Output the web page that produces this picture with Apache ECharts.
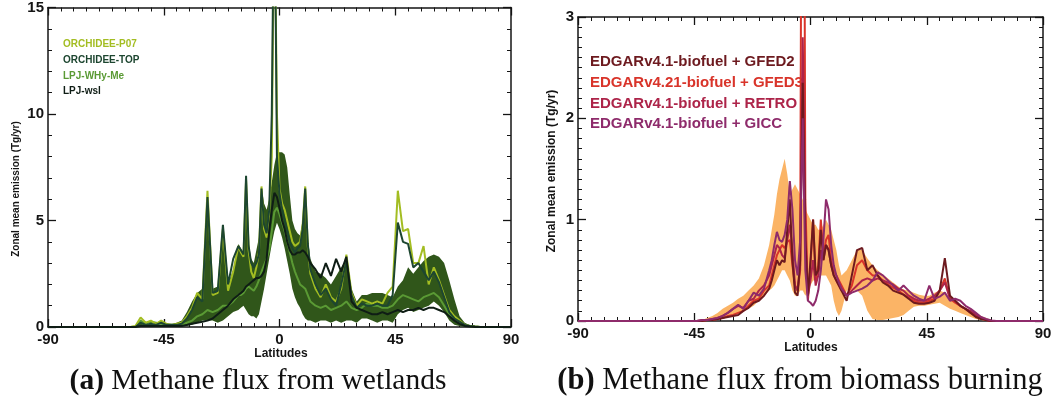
<!DOCTYPE html>
<html>
<head>
<meta charset="utf-8">
<script src="https://cdn.jsdelivr.net/npm/echarts@6/dist/echarts.min.js"></script>
<style>
  html, body { margin: 0; padding: 0; background: #ffffff; }
  #chart { width: 1055px; height: 408px; }
</style>
</head>
<body>
<div id="chart"></div>
<script>
// Latitude grid (degrees): 2° steps at the edges, 1° steps across the tropics
const LAT = [-90,
  -60, -58, -56, -54, -52, -50, -48, -46, -44, -42, -40, -38, -36, -34, -32, -30, -28, -26, -24, -22, -20, -18,
  -16, -15, -14, -13, -12, -11, -10, -9, -8, -7, -6, -5, -4, -3, -2, -1, 0, 1, 2, 3, 4, 5, 6, 7, 8, 9, 10, 11, 12,
  14, 16, 18, 20, 22, 24, 26, 28, 30, 32, 34, 36, 38, 40, 42, 44, 46, 48, 50, 52, 54, 56, 58, 60, 62, 64, 66, 68, 70, 72, 74, 76, 78, 80,
  90];

const X_TICKS = [-90, -45, 0, 45, 90];

// ---- (a) wetland emissions, Tg/yr ----
const orchideeP07 = [0,
  0, 0, 0.05, 0.45, 0.2, 0.3, 0.15, 0.3, 0.15, 0.1, 0.15, 0.2, 0.5, 0.9, 1.6, 1.3, 6.4, 1.5, 1.6, 4.6, 1.7, 2.6,
  3.8, 3.5, 3.3, 6.9, 3.6, 2.6, 2.3, 2.8, 3.5, 6.6, 4.6, 4.2, 5.3, 8.0, 21, 10, 6.5, 5.8, 5.5, 5.0, 4.5, 4.0, 3.8, 3.9, 4.0, 4.8, 6.6, 3.8, 2.5,
  1.8, 1.4, 2.0, 1.4, 1.2, 1.8, 3.4, 1.6, 1.0, 1.3, 1.2, 1.1, 1.2, 1.1, 1.6, 1.9, 6.4, 4.5, 4.6, 3.0, 3.0, 3.8, 2.0, 2.8, 2.2, 1.5, 0.8, 0.5, 0.3, 0.1, 0.05, 0.02, 0, 0,
  0];
const orchideeTOP = [0,
  0, 0, 0, 0.2, 0.1, 0.15, 0.1, 0.2, 0.1, 0.1, 0.1, 0.15, 0.4, 0.8, 1.4, 1.2, 6.1, 1.6, 1.7, 4.8, 2.0, 3.2,
  3.8, 3.6, 3.4, 7.1, 3.8, 3.0, 2.8, 3.0, 3.4, 6.5, 4.8, 4.4, 5.5, 10, 22, 8.0, 6.3, 5.5, 5.0, 4.5, 4.0, 3.7, 3.5, 3.7, 3.8, 4.6, 6.5, 3.9, 2.7,
  2.0, 1.5, 1.8, 1.3, 1.0, 2.0, 3.1, 1.5, 0.9, 1.1, 1.0, 1.0, 1.1, 1.0, 1.0, 1.5, 4.9, 4.0, 3.9, 2.8, 3.0, 2.6, 2.2, 2.6, 2.1, 1.4, 0.7, 0.4, 0.25, 0.1, 0.05, 0.02, 0, 0,
  0];
const lpjWhyMe = [0,
  0, 0, 0.02, 0.3, 0.15, 0.25, 0.2, 0.15, 0.1, 0.1, 0.1, 0.1, 0.2, 0.3, 0.5, 0.6, 0.8, 0.7, 0.8, 1.0, 1.0, 1.2,
  1.5, 1.5, 1.6, 1.8, 1.9, 1.8, 1.7, 1.9, 2.2, 2.6, 2.9, 3.2, 3.6, 4.5, 5.4, 5.6, 5.3, 4.9, 4.5, 4.0, 3.5, 3.0, 2.6, 2.3, 2.0, 1.9, 1.8, 1.5, 1.2,
  1.0, 0.9, 1.0, 0.8, 0.9, 1.0, 1.2, 0.9, 0.8, 0.9, 1.1, 1.0, 1.0, 0.9, 0.9, 1.0, 1.3, 1.5, 1.4, 1.3, 1.2, 1.4, 1.5, 1.6, 1.4, 1.0, 0.6, 0.4, 0.2, 0.1, 0.05, 0.02, 0, 0,
  0];
const lpjWsl = [0,
  0, 0, 0, 0.05, 0.05, 0.05, 0.05, 0.05, 0.05, 0.05, 0.05, 0.05, 0.1, 0.15, 0.2, 0.25, 0.3, 0.4, 0.6, 0.8, 1.0, 1.3,
  1.5, 1.6, 1.7, 1.9, 2.0, 2.1, 2.2, 2.3, 2.3, 2.4, 2.6, 3.2, 4.5, 5.5, 6.3, 6.1, 5.6, 5.0, 4.6, 4.0, 3.6, 3.4, 3.4, 3.5, 3.5, 3.6, 3.5, 3.3, 3.0,
  2.7, 2.3, 3.0, 2.4, 3.2, 2.6, 3.3, 1.2, 0.9, 0.8, 0.7, 0.6, 0.6, 0.7, 0.6, 0.7, 0.8, 0.7, 0.8, 0.8, 0.9, 0.8, 0.9, 0.9, 0.8, 0.7, 0.5, 0.3, 0.15, 0.05, 0.02, 0, 0, 0,
  0];
// ensemble range (min / max)
const wetRangeLow = [0,
  0, 0, 0, 0, 0, 0, 0, 0, 0, 0, 0, 0.02, 0.05, 0.1, 0.2, 0.3, 0.3, 0.3, 0.2, 0.3, 0.5, 0.7,
  0.8, 0.9, 1.0, 0.8, 0.6, 0.5, 0.5, 0.4, 0.6, 1.2, 1.8, 2.5, 3.2, 3.9, 4.5, 4.9, 4.6, 4.2, 3.7, 3.1, 2.5, 1.8, 1.4, 1.1, 0.9, 0.6, 0.4, 0.3, 0.3,
  0.2, 0.3, 0.3, 0.2, 0.3, 0.2, 0.3, 0.3, 0.2, 0.4, 0.4, 0.3, 0.2, 0.3, 0.3, 0.2, 0.6, 0.8, 0.9, 0.7, 0.8, 0.9, 1.0, 1.2, 1.0, 0.7, 0.3, 0.1, 0.05, 0, 0, 0, 0, 0,
  0];
const wetRangeHigh = [0,
  0, 0, 0.05, 0.15, 0.1, 0.12, 0.1, 0.12, 0.1, 0.12, 0.2, 0.3, 0.7, 1.2, 1.6, 1.8, 5.5, 1.8, 1.9, 4.4, 2.0, 2.7,
  3.9, 3.7, 3.5, 6.8, 4.0, 3.2, 3.0, 3.6, 4.2, 6.6, 5.8, 5.5, 6.0, 6.8, 7.6, 8.2, 8.2, 8.2, 8.1, 7.5, 6.2, 5.0, 4.6, 4.4, 4.3, 5.0, 6.3, 4.2, 3.2,
  2.6, 2.5, 2.3, 2.0, 2.4, 2.8, 3.2, 1.8, 1.2, 1.5, 1.5, 1.6, 1.6, 1.6, 1.5, 1.4, 1.9, 2.2, 2.8, 2.5, 2.8, 3.1, 3.3, 3.4, 3.3, 3.0, 2.2, 1.3, 0.5, 0.2, 0.08, 0.02, 0, 0,
  0];

// ---- (b) biomass burning emissions, Tg/yr ----
const gfed2 = [0,
  0, 0, 0, 0, 0, 0, 0, 0, 0, 0, 0.01, 0.01, 0.02, 0.03, 0.04, 0.05, 0.06, 0.1, 0.13, 0.18, 0.2, 0.25,
  0.32, 0.4, 0.5, 0.6, 0.55, 0.6, 0.58, 0.9, 1.2, 0.6, 0.28, 0.25, 0.6, 2.35, 0.8, 0.25, 0.6, 1.0, 0.45, 0.5, 0.9, 0.6, 0.75, 0.7, 0.55, 0.45, 0.4, 0.35, 0.3,
  0.2, 0.45, 0.7, 0.72, 0.5, 0.55, 0.45, 0.38, 0.35, 0.3, 0.28, 0.26, 0.22, 0.18, 0.17, 0.17, 0.18, 0.2, 0.3, 0.62, 0.25, 0.2, 0.15, 0.12, 0.08, 0.04, 0.02, 0.01, 0, 0, 0, 0, 0, 0,
  0];
const gfed3 = [0,
  0, 0, 0, 0, 0, 0, 0, 0, 0, 0, 0.01, 0.01, 0.02, 0.03, 0.05, 0.06, 0.08, 0.1, 0.15, 0.2, 0.22, 0.3,
  0.35, 0.45, 0.55, 0.65, 0.7, 0.75, 0.72, 0.78, 0.8, 0.55, 0.35, 0.3, 0.5, 9.0, 1.2, 0.2, 0.55, 1.0, 0.4, 0.55, 1.0, 0.65, 0.8, 0.85, 0.6, 0.5, 0.45, 0.4, 0.35,
  0.25, 0.35, 0.55, 0.6, 0.5, 0.45, 0.45, 0.4, 0.36, 0.33, 0.3, 0.26, 0.23, 0.2, 0.18, 0.18, 0.2, 0.22, 0.3, 0.42, 0.22, 0.18, 0.15, 0.12, 0.08, 0.05, 0.03, 0.01, 0, 0, 0, 0, 0, 0,
  0];
const retro = [0,
  0, 0, 0, 0, 0, 0, 0, 0, 0, 0.01, 0.01, 0.02, 0.03, 0.05, 0.08, 0.12, 0.15, 0.13, 0.2, 0.22, 0.3, 0.35,
  0.45, 0.55, 0.65, 0.75, 0.72, 0.65, 0.62, 0.8, 0.95, 0.7, 0.35, 0.3, 0.55, 2.8, 0.9, 0.25, 0.4, 0.6, 0.35, 0.45, 0.7, 0.6, 0.75, 0.7, 0.55, 0.45, 0.4, 0.35, 0.3,
  0.25, 0.3, 0.35, 0.4, 0.42, 0.4, 0.42, 0.4, 0.38, 0.36, 0.32, 0.3, 0.25, 0.22, 0.2, 0.2, 0.22, 0.25, 0.3, 0.38, 0.22, 0.2, 0.15, 0.12, 0.1, 0.06, 0.03, 0.01, 0, 0, 0, 0, 0, 0,
  0];
const gicc = [0,
  0, 0, 0, 0, 0, 0, 0, 0, 0, 0.01, 0.01, 0.02, 0.03, 0.05, 0.08, 0.12, 0.16, 0.12, 0.2, 0.28, 0.25, 0.32,
  0.5, 0.6, 0.75, 0.88, 0.8, 0.78, 0.85, 1.0, 1.38, 1.1, 0.6, 0.45, 0.8, 2.0, 0.5, 0.2, 0.18, 0.15, 0.2, 0.3, 0.5, 0.8, 1.2, 1.1, 0.75, 0.55, 0.45, 0.38, 0.32,
  0.25, 0.28, 0.3, 0.32, 0.35, 0.4, 0.48, 0.45, 0.4, 0.35, 0.3, 0.35, 0.3, 0.25, 0.22, 0.2, 0.35, 0.22, 0.24, 0.28, 0.2, 0.22, 0.2, 0.15, 0.12, 0.08, 0.04, 0.02, 0.005, 0, 0, 0, 0, 0,
  0];
// inventory range (min / max)
const fireRangeLow = [0,
  0, 0, 0, 0, 0, 0, 0, 0, 0, 0, 0, 0, 0.02, 0.03, 0.05, 0.06, 0.08, 0.1, 0.12, 0.15, 0.2, 0.25,
  0.3, 0.32, 0.35, 0.4, 0.45, 0.5, 0.5, 0.45, 0.4, 0.3, 0.25, 0.25, 0.3, 0.3, 0.25, 0.3, 0.35, 0.4, 0.4, 0.45, 0.45, 0.45, 0.45, 0.4, 0.35, 0.2, 0.1, 0.05, 0.1,
  0.3, 0.3, 0.3, 0.25, 0.1, 0.02, 0.01, 0.01, 0.02, 0.03, 0.04, 0.06, 0.1, 0.14, 0.15, 0.15, 0.16, 0.17, 0.18, 0.15, 0.12, 0.1, 0.08, 0.06, 0.04, 0.02, 0.01, 0, 0, 0, 0, 0, 0, 0,
  0];
const fireRangeHigh = [0,
  0, 0, 0, 0, 0, 0, 0, 0, 0, 0.01, 0.03, 0.05, 0.08, 0.12, 0.15, 0.18, 0.22, 0.25, 0.3, 0.35, 0.42, 0.55,
  0.75, 0.9, 1.05, 1.25, 1.4, 1.5, 1.6, 1.45, 1.25, 1.3, 1.35, 1.3, 1.25, 1.2, 1.1, 1.05, 1.0, 0.95, 0.95, 0.9, 0.9, 0.95, 1.0, 0.95, 0.9, 0.8, 0.7, 0.55, 0.45,
  0.5, 0.6, 0.7, 0.7, 0.62, 0.55, 0.5, 0.46, 0.42, 0.38, 0.34, 0.31, 0.3, 0.28, 0.26, 0.25, 0.25, 0.28, 0.3, 0.28, 0.22, 0.18, 0.15, 0.12, 0.1, 0.08, 0.05, 0.03, 0.01, 0, 0, 0, 0, 0,
  0];

const wetSeries = [
  { name: 'ORCHIDEE-P07', values: orchideeP07, color: '#a3bd22' },
  { name: 'ORCHIDEE-TOP', values: orchideeTOP, color: '#1d4630' },
  { name: 'LPJ-WHy-Me', values: lpjWhyMe, color: '#5a9a34' },
  { name: 'LPJ-wsl', values: lpjWsl, color: '#0f1d15' }
];
const fireSeries = [
  { name: 'EDGARv4.1-biofuel + GFED2', values: gfed2, color: '#6d1a1f' },
  { name: 'EDGARv4.21-biofuel + GFED3', values: gfed3, color: '#d9342a' },
  { name: 'EDGARv4.1-biofuel + RETRO', values: retro, color: '#ad2449' },
  { name: 'EDGARv4.1-biofuel + GICC', values: gicc, color: '#8e2b6b' }
];

const pts = vals => LAT.map((lat, i) => [lat, vals[i]]);

const FONT = 'Liberation Sans, Arial, Helvetica, sans-serif';
const INK = '#141414';

function xAxes(grid) {
  const base = {
    gridIndex: grid, type: 'value', min: X_TICKS[0], max: X_TICKS[X_TICKS.length - 1], interval: 45,
    axisLine: { show: true, onZero: false, lineStyle: { color: INK, width: 1.5 } },
    axisTick: { show: true, inside: true, length: 8, lineStyle: { color: INK, width: 1.3 } },
    minorTick: { show: true, splitNumber: 9, length: 4, lineStyle: { color: INK, width: 1 } },
    splitLine: { show: false }, minorSplitLine: { show: false }
  };
  return [
    Object.assign({}, base, { position: 'bottom',
      axisLabel: { show: true, margin: 5, fontFamily: FONT, fontWeight: 'bold', fontSize: 15, color: INK } }),
    Object.assign({}, base, { position: 'top', axisLabel: { show: false } })
  ];
}
function yAxes(grid, max, interval, minorSplit) {
  const base = {
    gridIndex: grid, type: 'value', min: 0, max: max, interval: interval,
    axisLine: { show: true, onZero: false, lineStyle: { color: INK, width: 1.5 } },
    axisTick: { show: true, inside: true, length: 8, lineStyle: { color: INK, width: 1.3 } },
    minorTick: { show: true, splitNumber: minorSplit, length: 4, lineStyle: { color: INK, width: 1 } },
    splitLine: { show: false }, minorSplitLine: { show: false }
  };
  return [
    Object.assign({}, base, { position: 'left',
      axisLabel: { show: true, margin: 4, fontFamily: FONT, fontWeight: 'bold', fontSize: 15, color: INK } }),
    Object.assign({}, base, { position: 'right', axisLabel: { show: false } })
  ];
}

// Filled min–max envelope, drawn as one polygon through the axis scales
function bandSeries(lo, hi, color, xi, yi) {
  return {
    type: 'custom', xAxisIndex: xi, yAxisIndex: yi, silent: true, z: 1,
    data: [[0, 0]], encode: { x: 0, y: 1 },
    renderItem: function (params, api) {
      const upper = LAT.map((lat, i) => api.coord([lat, hi[i]]));
      const lower = LAT.map((lat, i) => api.coord([lat, lo[i]])).reverse();
      return { type: 'polygon', shape: { points: upper.concat(lower) }, style: { fill: color, stroke: null } };
    }
  };
}
function lineSeries(s, xi, yi, width) {
  return { type: 'line', name: s.name, xAxisIndex: xi, yAxisIndex: yi, data: pts(s.values),
    showSymbol: false, symbol: 'none', clip: true,
    lineStyle: { color: s.color, width: width }, z: 3 };
}

const wetOrder = [2, 0, 1, 3];
const fireOrder = [1, 2, 0, 3];

const series = [bandSeries(wetRangeLow, wetRangeHigh, '#30561a', 0, 0)]
  .concat(wetOrder.map(i => lineSeries(wetSeries[i], 0, 0, 2)))
  .concat([bandSeries(fireRangeLow, fireRangeHigh, '#fbb466', 2, 2)])
  .concat(fireOrder.map(i => lineSeries(fireSeries[i], 2, 2, 2)));

const titleStyle = (size) => ({ fontFamily: FONT, fontWeight: 'bold', fontSize: size, fill: INK });

const graphics = [
  { type: 'text', x: 16, y: 189, rotation: Math.PI / 2,
    style: Object.assign({ text: 'Zonal mean emission (Tg/yr)', textAlign: 'center', textVerticalAlign: 'middle' }, titleStyle(10)) },
  { type: 'text', x: 552, y: 171, rotation: Math.PI / 2,
    style: Object.assign({ text: 'Zonal mean emission (Tg/yr)', textAlign: 'center', textVerticalAlign: 'middle' }, titleStyle(12)) },
  { type: 'text', x: 281, y: 354,
    style: Object.assign({ text: 'Latitudes', textAlign: 'center', textVerticalAlign: 'middle' }, titleStyle(12)) },
  { type: 'text', x: 811, y: 348,
    style: Object.assign({ text: 'Latitudes', textAlign: 'center', textVerticalAlign: 'middle' }, titleStyle(12)) }
];
const wetLegendY = [44, 60, 76, 91];
wetSeries.forEach((s, i) => graphics.push({ type: 'text', x: 63, y: wetLegendY[i],
  style: { text: s.name, fill: s.color, fontFamily: FONT, fontWeight: 'bold', fontSize: 10, textVerticalAlign: 'middle' } }));
const fireLegendY = [62, 83, 104, 124];
fireSeries.forEach((s, i) => graphics.push({ type: 'text', x: 590, y: fireLegendY[i],
  style: { text: s.name, fill: s.color, fontFamily: FONT, fontWeight: 'bold', fontSize: 15, textVerticalAlign: 'middle' } }));

const CAPTION_FONT = 'Liberation Serif, "DejaVu Serif", serif';
function caption(x, text, size) {
  return { type: 'text', x: x, y: 381,
    style: { text: text, textAlign: 'center', textVerticalAlign: 'middle',
      fontFamily: CAPTION_FONT, fontSize: size, fill: '#111',
      rich: { b: { fontFamily: CAPTION_FONT, fontSize: size, fontWeight: 'bold', fill: '#111' } } } };
}
graphics.push(caption(258, '{b|(a)} Methane flux from wetlands', 29.5));
graphics.push(caption(800, '{b|(b)} Methane flux from biomass burning', 30.5));

const chart = echarts.init(document.getElementById('chart'), null, { renderer: 'canvas' });
chart.setOption({
  animation: false,
  backgroundColor: '#ffffff',
  grid: [
    { left: 48, top: 7, width: 463, height: 320 },
    { left: 578, top: 17, width: 465, height: 304 }
  ],
  xAxis: xAxes(0).concat(xAxes(1)),
  yAxis: yAxes(0, 15, 5, 5).concat(yAxes(1, 3, 1, 10)),
  series: series,
  graphic: graphics
});
</script>
</body>
</html>
